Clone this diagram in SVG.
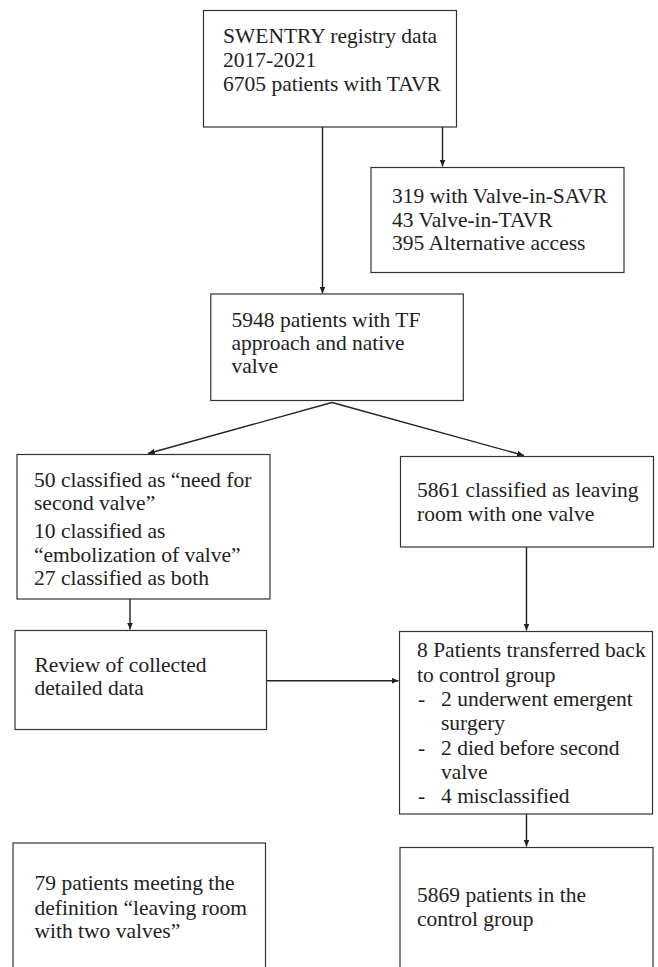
<svg xmlns="http://www.w3.org/2000/svg" width="658" height="967" viewBox="0 0 658 967">
<style>
.box{fill:#fff;stroke:#333;stroke-width:1.2}
text{font-family:'Liberation Serif','Times New Roman','DejaVu Serif',Times,serif;font-size:21.5px;fill:#222}
.c{stroke:#222;stroke-width:1.4;fill:none}
</style>
<defs>
<marker id="ah" markerUnits="userSpaceOnUse" markerWidth="8" markerHeight="7" refX="7" refY="3" orient="auto">
<path d="M0,0 L7,3 L0,6 z" fill="#222"/>
</marker>
</defs>
<rect width="658" height="967" fill="#fff"/>
<g id="connectors">
<line class="c" x1="322.5" y1="127" x2="322.5" y2="293.5" marker-end="url(#ah)"/>
<line class="c" x1="442.5" y1="127" x2="442.5" y2="166.5" marker-end="url(#ah)"/>
<line class="c" x1="332" y1="402.5" x2="148" y2="453.5" marker-end="url(#ah)"/>
<line class="c" x1="332" y1="402.5" x2="524" y2="455.5" marker-end="url(#ah)"/>
<line class="c" x1="130" y1="599" x2="130" y2="629.5" marker-end="url(#ah)"/>
<line class="c" x1="526.5" y1="547" x2="526.5" y2="630.5" marker-end="url(#ah)"/>
<line class="c" x1="266.5" y1="680.7" x2="398.5" y2="680.7" marker-end="url(#ah)"/>
<line class="c" x1="526.5" y1="814" x2="526.5" y2="846.5" marker-end="url(#ah)"/>
</g>
<g id="n1">
<rect class="box" x="203.5" y="10.5" width="253" height="116.5"/>
<text x="223" y="43.3">SWENTRY registry data</text>
<text x="223" y="66.7">2017-2021</text>
<text x="223" y="90.5">6705 patients with TAVR</text>
</g>
<g id="n2">
<rect class="box" x="371" y="167.5" width="253" height="105"/>
<text x="392" y="203.3">319 with Valve-in-SAVR</text>
<text x="392" y="226.7">43 Valve-in-TAVR</text>
<text x="392" y="250">395 Alternative access</text>
</g>
<g id="n3">
<rect class="box" x="210.8" y="294" width="252.5" height="106.5"/>
<text x="231.5" y="326.7">5948 patients with TF</text>
<text x="231.5" y="350">approach and native</text>
<text x="231.5" y="373.3">valve</text>
</g>
<g id="n4">
<rect class="box" x="17" y="454.5" width="253" height="144.5"/>
<text x="34" y="486.7">50 classified as “need for</text>
<text x="34" y="510">second valve”</text>
<text x="34" y="538.3">10 classified as</text>
<text x="34" y="561.7">“embolization of valve”</text>
<text x="34" y="585">27 classified as both</text>
</g>
<g id="n5">
<rect class="box" x="400.5" y="456.5" width="253" height="90.5"/>
<text x="417" y="496.7">5861 classified as leaving</text>
<text x="417" y="520.7">room with one valve</text>
</g>
<g id="n6">
<rect class="box" x="15" y="630.5" width="251.5" height="99"/>
<text x="34.5" y="671.7">Review of collected</text>
<text x="34.5" y="695">detailed data</text>
</g>
<g id="n7">
<rect class="box" x="399.5" y="631.5" width="253" height="182.5"/>
<text x="417" y="656.7">8 Patients transferred back</text>
<text x="417" y="681.7">to control group</text>
<text x="418" y="706">-</text>
<text x="441" y="706">2 underwent emergent</text>
<text x="441" y="730">surgery</text>
<text x="418" y="755">-</text>
<text x="441" y="755">2 died before second</text>
<text x="441" y="778.5">valve</text>
<text x="418" y="802.7">-</text>
<text x="441" y="802.7">4 misclassified</text>
</g>
<g id="n8">
<rect class="box" x="13" y="843" width="252.5" height="140"/>
<text x="34.5" y="890">79 patients meeting the</text>
<text x="34.5" y="915">definition “leaving room</text>
<text x="34.5" y="938.3">with two valves”</text>
</g>
<g id="n9">
<rect class="box" x="400" y="847.5" width="253" height="140"/>
<text x="417" y="901.7">5869 patients in the</text>
<text x="417" y="925.5">control group</text>
</g>
</svg>
